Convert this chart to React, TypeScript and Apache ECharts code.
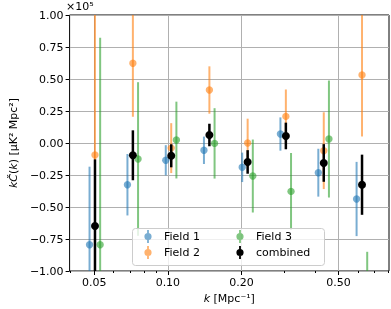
import React, { useEffect, useRef } from 'react';
import * as echarts from 'echarts';

// k bin centres [Mpc^-1]
const kCenters = [0.0503, 0.0719, 0.1032, 0.1479, 0.2121, 0.3041, 0.4347, 0.6235];

// values in units of 1e5 muK^2 Mpc^2
const field1Vals = [-0.795, -0.326, -0.135, -0.057, -0.19, 0.07, -0.232, -0.4375];
const field1Errs = [0.61, 0.24, 0.118, 0.107, 0.115, 0.13, 0.187, 0.29];
const field2Vals = [-0.094, 0.623, -0.04, 0.414, 0.0, 0.208, -0.06, 0.531];
const field2Errs = [1.25, 0.418, 0.195, 0.185, 0.19, 0.21, 0.3, 0.48];
const field3Vals = [-0.795, -0.125, 0.023, -0.003, -0.258, -0.378, 0.031, -1.35];
const field3Errs = [1.618, 0.6, 0.3, 0.275, 0.285, 0.3, 0.457, 0.5];
const combinedVals = [-0.648, -0.096, -0.1, 0.0625, -0.148, 0.055, -0.156, -0.326];
const combinedErrs = [0.52, 0.195, 0.09, 0.088, 0.092, 0.104, 0.147, 0.235];

// horizontal dodge factors (multiplicative in k)
const shiftField1 = 0.95;
const shiftField2 = 1.0;
const shiftField3 = 1.05;
const shiftCombined = 1.0;

const seriesNames = ['Field 1', 'Field 2', 'Field 3', 'combined'];

const xMajorTicks = [0.05, 0.1, 0.2, 0.5];
const xMinorTicks = [0.04, 0.06, 0.07, 0.08, 0.09, 0.3, 0.4, 0.6, 0.7, 0.8];
const xRange = [0.0396, 0.804];
const yRange = [-1, 1];
const yInterval = 0.25;

const FONT = 'DejaVu Sans';
const LEGEND_ICON =
  'path://M0,7L22,7Z M10.1,0.5h1.8v13h-1.8z M7.4,7a3.6,3.6 0 1,1 7.2,0a3.6,3.6 0 1,1 -7.2,0z';

function buildData(vals: number[], errs: number[], shift: number) {
  return kCenters.map((k, i) => [Math.log10(k * shift), vals[i], errs[i]]);
}

function makeRenderer(color: string, lw: number, r: number) {
  return (params: any, api: any) => {
    const x = api.value(0);
    const y = api.value(1);
    const e = api.value(2);
    const c = api.coord([x, y]);
    const top = api.coord([x, y + e]);
    const bot = api.coord([x, y - e]);
    return {
      type: 'group',
      children: [
        {
          type: 'line',
          shape: { x1: c[0], y1: top[1], x2: c[0], y2: bot[1] },
          style: { stroke: color, lineWidth: lw },
        },
        {
          type: 'circle',
          shape: { cx: c[0], cy: c[1], r },
          style: { fill: color },
        },
      ],
    };
  };
}

function errSeries(name: string, data: number[][], color: string, lw: number, r: number) {
  return {
    type: 'custom',
    name,
    data,
    clip: true,
    encode: { x: 0, y: 1 },
    itemStyle: { color },
    renderItem: makeRenderer(color, lw, r),
  };
}

const fmtMinus = (s: string) => s.replace('-', '\u2212');

export default function App() {
  const ref = useRef<HTMLDivElement>(null);
  useEffect(() => {
    if (!ref.current) return;
    const chart = echarts.init(ref.current, null, { renderer: 'svg' });
    const blue = 'rgba(31,119,180,0.6)';
    const orange = 'rgba(255,127,14,0.6)';
    const green = 'rgba(44,160,44,0.6)';
    const black = '#000000';
    const xMin = Math.log10(xRange[0]);
    const xMax = Math.log10(xRange[1]);
    const legendText = { fontFamily: FONT, fontSize: 11, color: '#000' };
    const option: any = {
      animation: false,
      textStyle: { fontFamily: FONT },
      grid: {
        left: 66,
        right: 2,
        top: 15,
        bottom: 38,
        show: true,
        borderColor: '#000',
        borderWidth: 1,
        backgroundColor: 'transparent',
      },
      xAxis: [
        {
          type: 'value',
          min: xMin,
          max: xMax,
          position: 'bottom',
          name: '{i|k} [Mpc\u207B\u00B9]',
          nameLocation: 'middle',
          nameGap: 20,
          nameTextStyle: {
            fontFamily: FONT,
            fontSize: 11,
            color: '#000',
            rich: { i: { fontFamily: FONT, fontSize: 11, fontStyle: 'italic', color: '#000' } },
          },
          axisLine: { show: false, onZero: false },
          axisTick: {
            show: true,
            length: 4,
            customValues: xMajorTicks.map((v) => Math.log10(v)),
            lineStyle: { color: '#000', width: 1 },
          },
          axisLabel: {
            show: true,
            margin: 6,
            fontFamily: FONT,
            fontSize: 11,
            color: '#000',
            customValues: xMajorTicks.map((v) => Math.log10(v)),
            formatter: (v: number) => Math.pow(10, v).toFixed(2),
          },
          splitLine: { show: true, lineStyle: { color: '#b0b0b0', width: 1 } },
        },
        {
          type: 'value',
          min: xMin,
          max: xMax,
          position: 'bottom',
          axisLine: { show: false, onZero: false },
          axisTick: {
            show: true,
            length: 2,
            customValues: xMinorTicks.map((v) => Math.log10(v)),
            lineStyle: { color: '#000', width: 1 },
          },
          axisLabel: { show: false },
          splitLine: { show: false },
        },
      ],
      yAxis: {
        type: 'value',
        min: yRange[0],
        max: yRange[1],
        interval: yInterval,
        name: '{i|k\u010C}({i|k}) [\u03BCK\u00B2 Mpc\u00B2]',
        nameLocation: 'middle',
        nameGap: 48,
        nameTextStyle: {
          fontFamily: FONT,
          fontSize: 11,
          color: '#000',
          rich: { i: { fontFamily: FONT, fontSize: 11, fontStyle: 'italic', color: '#000' } },
        },
        axisLine: { show: false, onZero: false },
        axisTick: { show: true, length: 4, lineStyle: { color: '#000', width: 1 } },
        axisLabel: {
          margin: 6,
          fontFamily: FONT,
          fontSize: 11,
          color: '#000',
          formatter: (v: number) => fmtMinus(v.toFixed(2)),
        },
        splitLine: { show: true, lineStyle: { color: '#b0b0b0', width: 1 } },
      },
      legend: [
        {
          data: [seriesNames[0], seriesNames[1]],
          orient: 'vertical',
          left: 137,
          top: 230,
          padding: 0,
          itemGap: 3,
          itemWidth: 22,
          itemHeight: 14,
          icon: LEGEND_ICON,
          textStyle: legendText,
        },
        {
          data: [seriesNames[2], seriesNames[3]],
          orient: 'vertical',
          left: 229,
          top: 230,
          padding: 0,
          itemGap: 3,
          itemWidth: 22,
          itemHeight: 14,
          icon: LEGEND_ICON,
          textStyle: legendText,
        },
      ],
      graphic: [
        {
          type: 'rect',
          left: 132,
          top: 228,
          z: 3,
          shape: { width: 192, height: 37, r: 3 },
          style: { fill: 'rgba(255,255,255,0.8)', stroke: '#cccccc', lineWidth: 1 },
        },
        {
          type: 'text',
          left: 66,
          top: 1,
          z: 5,
          style: { text: '\u00D710\u2075', fill: '#000', font: `11px "${FONT}"` },
        },
      ],
      series: [
        errSeries(seriesNames[0], buildData(field1Vals, field1Errs, shiftField1), blue, 2, 3.7),
        errSeries(seriesNames[1], buildData(field2Vals, field2Errs, shiftField2), orange, 2, 3.7),
        errSeries(seriesNames[2], buildData(field3Vals, field3Errs, shiftField3), green, 2, 3.7),
        errSeries(seriesNames[3], buildData(combinedVals, combinedErrs, shiftCombined), black, 2.5, 4),
      ],
    };
    chart.setOption(option);
    return () => chart.dispose();
  }, []);
  return (
    <div
      ref={ref}
      style={{ position: 'fixed', left: 0, top: 0, width: 391, height: 309 }}
    />
  );
}
